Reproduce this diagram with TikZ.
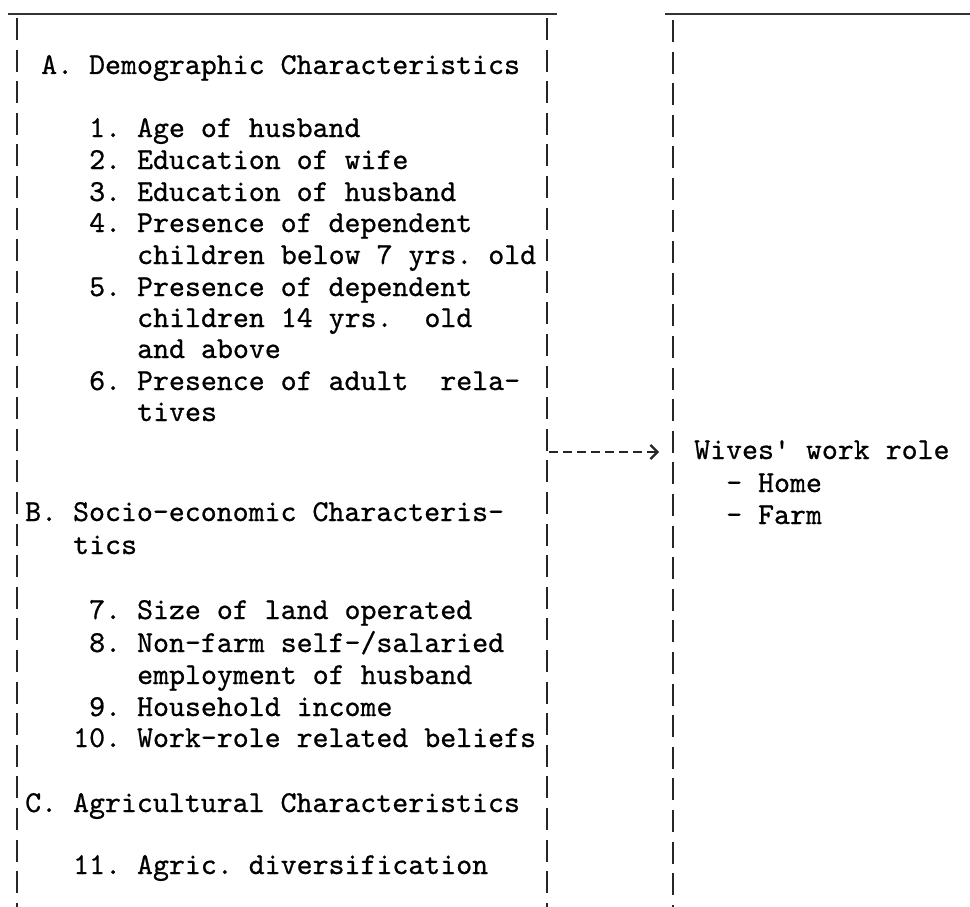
\documentclass[tikz,border=0pt]{standalone}
\usepackage{fontspec}
\setmonofont{lmmono10-regular.otf}[FakeBold=0.7]
\usetikzlibrary{arrows.meta}
\begin{document}
\begin{tikzpicture}[x=1pt,y=-1pt,
  txt/.style={anchor=base west, inner sep=0pt, text=black, font=\ttfamily\fontsize{30.4}{31.6}\selectfont},
  bar/.style={line width=2.2pt, draw=black!85, dash pattern=on 22pt off 9.6pt},
  rule/.style={line width=1.6pt, draw=black!80},
  flow/.style={line width=1.4pt, draw=black!85, dash pattern=on 9pt off 5pt, -{Straight Barb[length=7pt,width=14pt,line width=2.2pt]}}]
\useasboundingbox (0,0) rectangle (970,907);
% open boxes
\draw[rule] (8,14) -- (557,14);
\draw[rule] (665,14) -- (970,14);
\draw[bar] (17,18) -- (17,907);
\draw[bar] (547,18) -- (547,907);
\draw[bar] (673,20) -- (673,907);
% left column
\node[txt] (hA) at (41,74) {A. Demographic Characteristics};
\node[txt] (i1) at (89,137) {1. Age of husband};
\node[txt] (i2) at (89,169) {2. Education of wife};
\node[txt] (i3) at (89,201) {3. Education of husband};
\node[txt] (i4) at (89,232) {4. Presence of dependent};
\node[txt] (i4b) at (137,264) {children below 7 yrs. old};
\node[txt] (i5) at (89,296) {5. Presence of dependent};
\node[txt] (i5b) at (137,327) {children 14 yrs.\ \ old};
\node[txt] (i5c) at (137,358) {and above};
\node[txt] (i6) at (89,390) {6. Presence of adult\ \ rela-};
\node[txt] (i6b) at (137,421) {tives};
\node[txt] (hB) at (25,521) {B. Socio-economic Characteris-};
\node[txt] (hBb) at (73,554) {tics};
\node[txt] (i7) at (89,619) {7. Size of land operated};
\node[txt] (i8) at (89,652) {8. Non-farm self-/salaried};
\node[txt] (i8b) at (137,684) {employment of husband};
\node[txt] (i9) at (89,716) {9. Household income};
\node[txt] (i10) at (73,747) {10. Work-role related beliefs};
\node[txt] (hC) at (25,812) {C. Agricultural Characteristics};
\node[txt] (i11) at (73,874) {11. Agric. diversification};
% right column
\node[txt] (out) at (694,459) {Wives' work role};
\node[txt] (o1) at (726,492) {- Home};
\node[txt] (o2) at (726,524) {- Farm};
% connector
\coordinate (aS) at (549,452);
\coordinate (aE) at (659,452);
\draw[flow] (aS) -- (aE);
\end{tikzpicture}
\end{document}
